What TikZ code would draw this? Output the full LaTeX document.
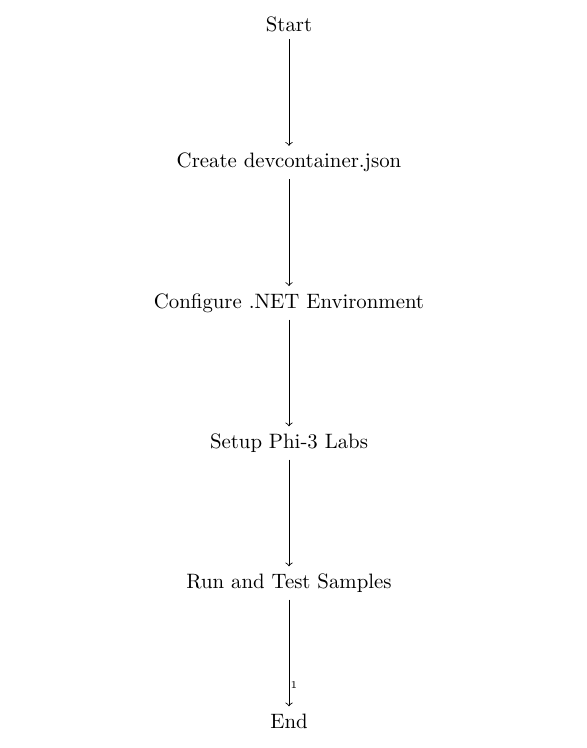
\documentclass[tikz,border=0pt]{standalone}
\usepackage{tikz}
\usetikzlibrary{positioning}

\begin{document}
\begin{tikzpicture}[node distance=1.8cm, stage/.style={inner sep=3.33pt}]
%\draw[help lines] (0,0) grid (10,13);
\useasboundingbox (-4.88,0.41) rectangle (5.02,-12.22);

\node[stage] (start) at (0,0) {Start};
\node[stage, below=of start] (create) {Create devcontainer.json};
\node[stage, below=of create] (config) {Configure .NET Environment};
\node[stage, below=of config] (setup) {Setup Phi-3 Labs};
\node[stage, below=of setup] (run) {Run and Test Samples};
\node[stage, below=of run] (end) {End};

\draw[->] (start) -- (create);
\draw[->] (create) -- (config);
\draw[->] (config) -- (setup);
\draw[->] (setup) -- (run);
\draw[->] (run) -- node[pos=0.8, right, inner sep=0.5pt, font=\tiny] {1} (end);
\end{tikzpicture}
\end{document}
